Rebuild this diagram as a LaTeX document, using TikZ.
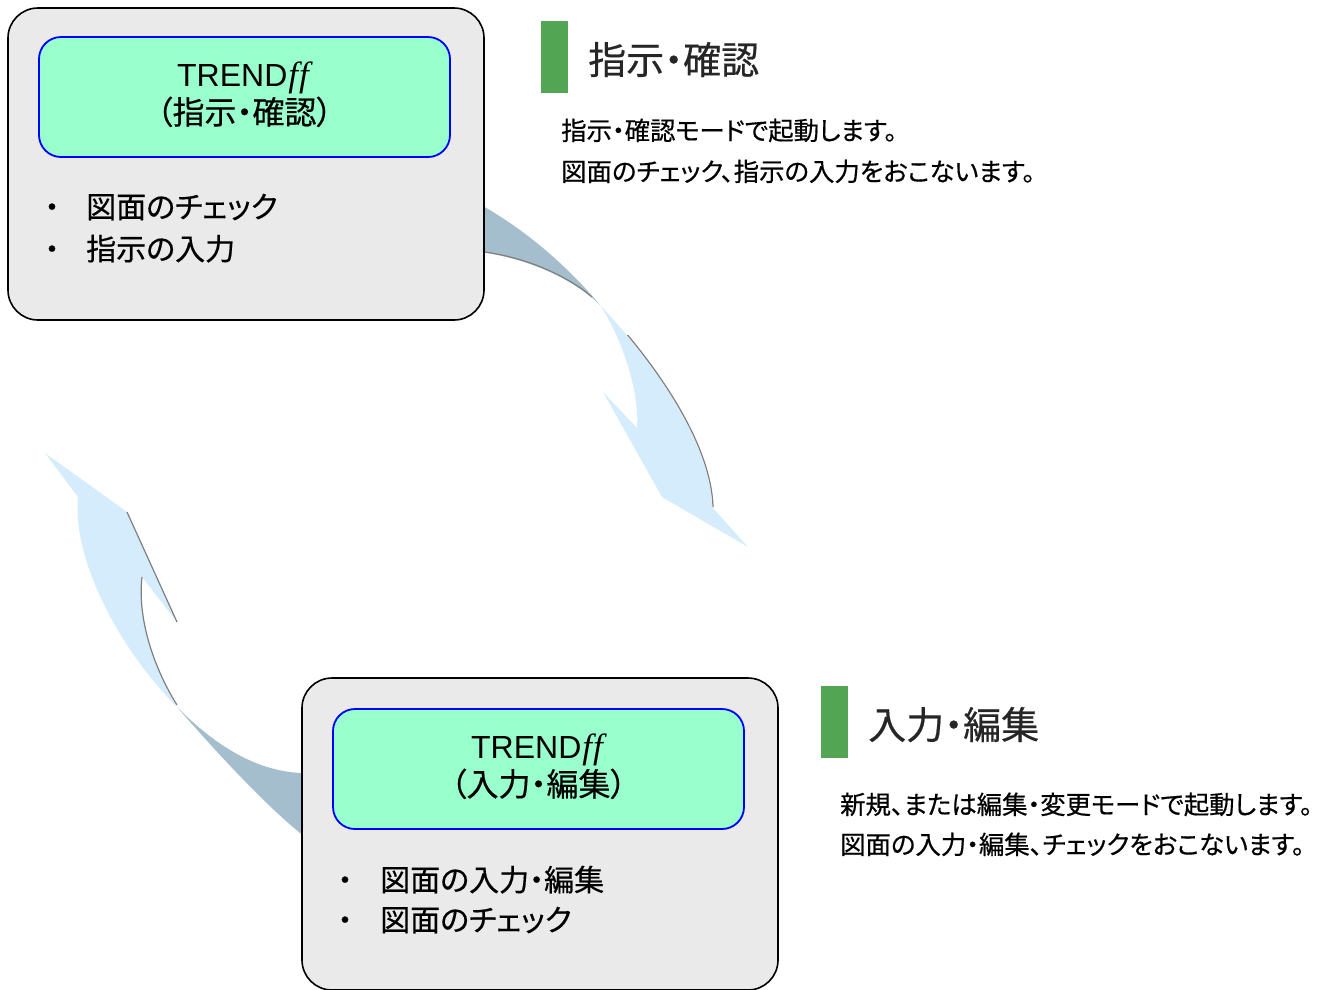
\documentclass[tikz,border=0pt]{standalone}
\usepackage{fontspec}
\usepackage{xcolor}
\usepackage{tikz}
\usetikzlibrary{calc,positioning}
\setmainfont{Liberation Sans}
\newfontfamily\jpfont{Noto Sans CJK JP}[FakeBold=0.5]
\newfontfamily\jppfont{Noto Sans CJK JP}[RawFeature=+palt, FakeBold=0.5]
\newfontfamily\fffont{Liberation Serif}[Ligatures=CommonOff]
\definecolor{boxgray}{HTML}{EAEAEA}
\definecolor{mint}{HTML}{99FFCC}
\definecolor{headgreen}{HTML}{52A552}
\definecolor{headink}{HTML}{262626}
\definecolor{bandlight}{HTML}{D4ECFC}
\definecolor{banddark}{HTML}{A5BECD}
\definecolor{edgegray}{HTML}{7F7F7F}
\tikzset{
  modebox/.style={draw=black, line width=1.6pt, fill=boxgray, rounded corners=30pt,
    minimum width=476pt, minimum height=312pt, inner sep=0pt},
  titlebox/.style={draw=blue, line width=1.8pt, fill=mint, rounded corners=22pt,
    minimum width=411pt, minimum height=120pt, inner sep=0pt},
  titletext/.style={anchor=base, inner sep=0pt, font=\fontsize{32}{38}\selectfont},
  dottext/.style={anchor=base, inner sep=0pt, font=\jpfont\fontsize{30}{36}\selectfont},
  itemtext/.style={anchor=base west, inner sep=0pt, font=\jppfont\fontsize{30}{36}\selectfont},
  headtext/.style={anchor=base west, inner sep=0pt, text=headink, font=\jppfont\fontsize{38}{44}\selectfont},
  desctext/.style={anchor=base west, inner sep=0pt, font=\jppfont\fontsize{25.4}{30}\selectfont},
  greenbar/.style={fill=headgreen},
  bandfront/.style={fill=bandlight},
  bandback/.style={fill=banddark},
  bandedge/.style={draw=edgegray, line width=1.2pt}
}
\newcommand{\trendff}{TREND{\fffont\itshape\fontsize{35}{38}\selectfont\kern1pt f\kern1pt f}}

\begin{document}
\begin{tikzpicture}[x=1pt, y=-1pt]
  \useasboundingbox (0,0) rectangle (1324,989);

  % curved arrow: confirm -> input
  \fill[bandback] (470,199) .. controls (530,230) and (575,275) .. (600,305)
    .. controls (575,280) and (530,258) .. (470,250) -- cycle;
  \draw[bandedge] (484,252) .. controls (530,258) and (570,278) .. (592,297);
  \fill[bandfront] (600,305) .. controls (650,358) and (710,440) .. (712,507)
    -- (748,547) -- (662,497) -- (603,392) -- (637,428)
    .. controls (640,390) and (620,335) .. (600,305) -- cycle;
  \begin{scope}
    \clip (625,335) rectangle (760,512);
    \draw[bandedge] (601,305) .. controls (651,358) and (711,440) .. (713,507);
  \end{scope}

  % curved arrow: input -> confirm
  \fill[bandback] (177,707) .. controls (210,745) and (260,800) .. (300,833)
    -- (315,845) -- (315,773) -- (300,773)
    .. controls (250,770) and (210,740) .. (177,707) -- cycle;
  \fill[bandfront] (177,707) .. controls (120,650) and (72,560) .. (78,497)
    -- (45,453) -- (127,512) -- (177,622) -- (142,577)
    .. controls (137,620) and (155,670) .. (177,707) -- cycle;
  \draw[bandedge] (142,577) .. controls (137,620) and (155,670) .. (177,705);
  \draw[bandedge] (127,512) -- (177,622);

  % confirm mode box
  \node[modebox] (confirmbox) at (246,164) {};
  \node[titlebox] (confirmtitle) at (244.5,97) {};
  \node[titletext] (confirmname) at (243,86) {\trendff};
  \node[titletext] (confirmsub) at (244.5,124) {\jppfont（指示・確認）};
  \node[dottext] (confirmdotA) at (52,218) {・};
  \node[itemtext] (confirmitemA) at (86,218) {図面のチェック};
  \node[dottext] (confirmdotB) at (52,260) {・};
  \node[itemtext] (confirmitemB) at (86,260) {指示の入力};

  % input mode box
  \node[modebox] (inputbox) at (540,834) {};
  \node[titlebox] (inputtitle) at (538.5,769) {};
  \node[titletext] (inputname) at (537,758) {\trendff};
  \node[titletext] (inputsub) at (538.5,796) {\jppfont（入力・編集）};
  \node[dottext] (inputdotA) at (345,891) {・};
  \node[itemtext] (inputitemA) at (380,891) {図面の入力・編集};
  \node[dottext] (inputdotB) at (345,931) {・};
  \node[itemtext] (inputitemB) at (380,931) {図面のチェック};

  % headings and notes
  \fill[greenbar] (541,21) rectangle (568,93);
  \node[headtext] (confirmhead) at (588,74) {指示・確認};
  \node[desctext] (confirmnoteA) at (561,140) {指示・確認モードで起動します。};
  \node[desctext] (confirmnoteB) at (561,181) {図面のチェック、指示の入力をおこないます。};

  \fill[greenbar] (821,686) rectangle (848,758);
  \node[headtext] (inputhead) at (868,739) {入力・編集};
  \node[desctext] (inputnoteA) at (840,814) {新規、または編集・変更モードで起動します。};
  \node[desctext] (inputnoteB) at (840,854) {図面の入力・編集、チェックをおこないます。};
\end{tikzpicture}
\end{document}
